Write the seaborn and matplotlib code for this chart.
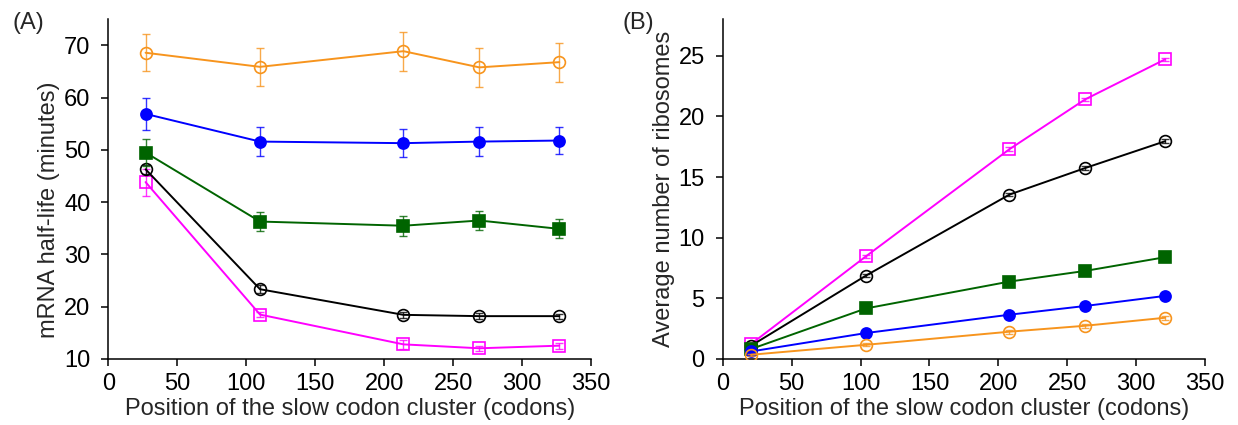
import numpy as np
import pandas as pd
import matplotlib
matplotlib.use("Agg")
import matplotlib.pyplot as plt
import seaborn as sns

# Slow-codon cluster positions (codons)
pos_halflife = [27, 110, 214, 269, 327]
pos_ribosomes = [20.5, 104, 208, 263, 321]

# mRNA half-life (minutes) and its error per construct
hl_orange = [68.6, 65.9, 68.9, 65.8, 66.8]
hl_orange_err = [3.5, 3.6, 3.75, 3.7, 3.75]
hl_blue = [56.9, 51.6, 51.3, 51.6, 51.8]
hl_blue_err = [3.1, 2.7, 2.7, 2.75, 2.55]
hl_green = [49.5, 36.3, 35.5, 36.5, 34.9]
hl_green_err = [2.6, 1.9, 1.9, 1.85, 1.8]
hl_black = [46.3, 23.35, 18.45, 18.2, 18.2]
hl_black_err = [0.9, 0.8, 0.6, 0.6, 0.5]
hl_magenta = [43.85, 18.5, 12.8, 12.05, 12.55]
hl_magenta_err = [2.6, 0.5, 0.8, 0.5, 0.6]

# Average number of ribosomes per mRNA
rb_orange = [0.35, 1.17, 2.25, 2.74, 3.4]
rb_blue = [0.62, 2.14, 3.65, 4.37, 5.2]
rb_green = [0.82, 4.17, 6.38, 7.26, 8.39]
rb_black = [1.09, 6.88, 13.55, 15.74, 17.95]
rb_magenta = [1.23, 8.47, 17.29, 21.4, 24.7]
rb_err = [0.1, 0.12, 0.15, 0.15, 0.15]

x_ticks = [0, 50, 100, 150, 200, 250, 300, 350]
hl_ticks = [10, 20, 30, 40, 50, 60, 70]
rb_ticks = [0, 5, 10, 15, 20, 25]

sns.set_style("ticks")
plt.rcParams["font.family"] = ["Liberation Sans", "DejaVu Sans"]
plt.rcParams["font.size"] = 17

ORANGE = "#F7941D"
BLUE = "#0000FF"
GREEN = "#006400"
BLACK = "#000000"
MAGENTA = "#FF00FF"

# (colour, marker, filled)
styles = {
    "orange": (ORANGE, "o", False),
    "blue": (BLUE, "o", True),
    "green": (GREEN, "s", True),
    "black": (BLACK, "o", False),
    "magenta": (MAGENTA, "s", False),
}

fig = plt.figure(figsize=(12.38, 4.25), dpi=100)
axA = fig.add_axes([0.0875, 0.1553, 0.3899, 0.7993])
axB = fig.add_axes([0.5838, 0.1553, 0.3896, 0.7993])


def draw_series(ax, x, y, err, key, z):
    color, marker, filled = styles[key]
    ax.errorbar(x, y, yerr=err, fmt="none", ecolor=color, elinewidth=1.0,
                capsize=3, capthick=1.0, alpha=0.8, zorder=z)
    df = pd.DataFrame({"x": x, "y": y})
    ms = 8 if filled else 8.5
    sns.lineplot(data=df, x="x", y="y", ax=ax, color=color, linewidth=1.4,
                 marker=marker, markersize=ms,
                 markerfacecolor=color if filled else "none",
                 markeredgecolor=color, markeredgewidth=1.2,
                 zorder=z + 0.5, legend=False)


series_A = [
    (hl_magenta, hl_magenta_err, "magenta"),
    (hl_black, hl_black_err, "black"),
    (hl_green, hl_green_err, "green"),
    (hl_blue, hl_blue_err, "blue"),
    (hl_orange, hl_orange_err, "orange"),
]
for i, (y, e, k) in enumerate(series_A):
    draw_series(axA, pos_halflife, y, e, k, 3 + i)

series_B = [
    (rb_magenta, "magenta"),
    (rb_black, "black"),
    (rb_green, "green"),
    (rb_blue, "blue"),
    (rb_orange, "orange"),
]
for i, (y, k) in enumerate(series_B):
    draw_series(axB, pos_ribosomes, y, rb_err, k, 3 + i)

for ax in (axA, axB):
    ax.set_xlim(0, 350)
    ax.set_xticks(x_ticks)
    ax.set_xlabel("Position of the slow codon cluster (codons)", fontsize=17)
    sns.despine(ax=ax)
    for s in ("left", "bottom"):
        ax.spines[s].set_linewidth(1.1)
        ax.spines[s].set_color("black")
    ax.tick_params(axis="both", direction="out", length=5, width=1.1,
                   colors="black", labelsize=17)
    ax.tick_params(axis="y", pad=8)
    ax.tick_params(axis="x", pad=5)
    ax.xaxis.set_label_coords(0.5, -0.115)

axA.set_ylim(10, 75)
axA.set_yticks(hl_ticks)
axA.set_ylabel("mRNA half-life (minutes)", fontsize=17)
axA.yaxis.set_label_coords(-0.10, 0.44)

axB.set_ylim(0, 28)
axB.set_yticks(rb_ticks)
axB.set_ylabel("Average number of ribosomes", fontsize=17)
axB.yaxis.set_label_coords(-0.10, 0.5)

fig.text(13 / 1238, 1 - 12 / 425, "(A)", fontsize=17, va="top", ha="left")
fig.text(622 / 1238, 1 - 12 / 425, "(B)", fontsize=17, va="top", ha="left")

fig.savefig("out.png", dpi=100, facecolor="white")
